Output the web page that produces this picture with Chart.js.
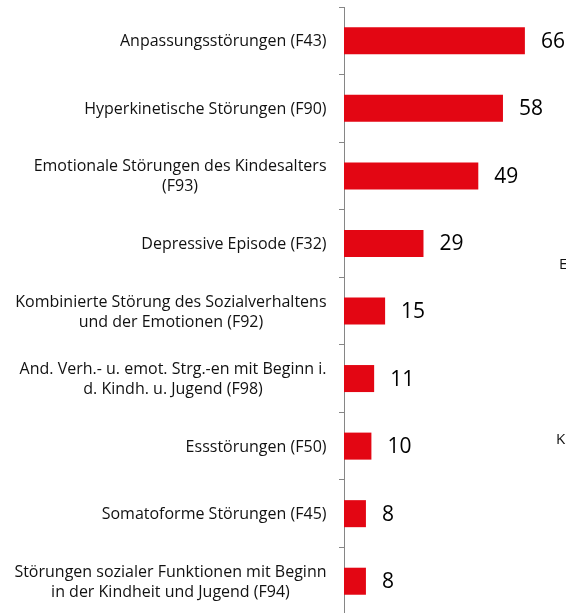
<!DOCTYPE html>
<html>
<head>
<meta charset="utf-8">
<script src="https://cdn.jsdelivr.net/npm/chart.js@4/dist/chart.umd.min.js"></script>
<style>
  html, body { margin: 0; padding: 0; background: #fff; overflow: hidden; }
  #wrap { position: relative; width: 566px; height: 622px; }
</style>
</head>
<body>
<div id="wrap"><canvas id="chart"></canvas></div>
<script>
const categories = [
  'Anpassungsstörungen (F43)',
  'Hyperkinetische Störungen (F90)',
  ['Emotionale Störungen des Kindesalters', '(F93)'],
  'Depressive Episode (F32)',
  ['Kombinierte Störung des Sozialverhaltens', 'und der Emotionen (F92)'],
  ['And. Verh.- u. emot. Strg.-en mit Beginn i.', 'd. Kindh. u. Jugend (F98)'],
  'Essstörungen (F50)',
  'Somatoforme Störungen (F45)',
  ['Störungen sozialer Funktionen mit Beginn', 'in der Kindheit und Jugend (F94)']
];
const values = [66, 58, 49, 29, 15, 11, 10, 8, 8];
const xMax = 81;

const RED = '#e30613';
const AXIS = '#868686';
const labelFont = '16px "Open Sans"';
const valueFont = '21px "Open Sans"';

// category labels: right edge fixed, lines of a wrapped label centered on each other
const categoryLabels = {
  id: 'categoryLabels',
  afterDraw(chart) {
    const ctx = chart.ctx;
    const y = chart.scales.y;
    const right = 326.5;
    const lineH = 20;
    ctx.save();
    ctx.font = labelFont;
    ctx.fillStyle = '#111';
    ctx.textBaseline = 'middle';
    ctx.textAlign = 'center';
    categories.forEach((cat, i) => {
      const lines = Array.isArray(cat) ? cat : [cat];
      const w = Math.max(...lines.map(l => ctx.measureText(l).width));
      const cx = right - w / 2;
      const cy = y.getPixelForValue(i) + 1;
      lines.forEach((l, j) => {
        ctx.fillText(l, cx, cy + (j - (lines.length - 1) / 2) * lineH);
      });
    });
    ctx.restore();
  }
};

// numbers next to the bars
const valueLabels = {
  id: 'valueLabels',
  afterDatasetsDraw(chart) {
    const ctx = chart.ctx;
    const meta = chart.getDatasetMeta(0);
    ctx.save();
    ctx.font = valueFont;
    ctx.fillStyle = '#000';
    ctx.textBaseline = 'middle';
    ctx.textAlign = 'left';
    meta.data.forEach((bar, i) => {
      ctx.fillText(String(values[i]), bar.x + 16, bar.y + 1);
    });
    ctx.restore();
  }
};

// clipped letters of the neighbouring element at the right edge
const edgeText = {
  id: 'edgeText',
  afterDraw(chart) {
    const ctx = chart.ctx;
    ctx.save();
    ctx.font = '15px "Open Sans"';
    ctx.fillStyle = '#111';
    ctx.textBaseline = 'middle';
    ctx.textAlign = 'left';
    ctx.fillText('E', 559, 265);
    ctx.fillText('K', 556, 440);
    ctx.restore();
  }
};

function draw() {
  new Chart(document.getElementById('chart'), {
    type: 'bar',
    data: {
      labels: categories,
      datasets: [{
        data: values,
        backgroundColor: RED,
        borderWidth: 0,
        barPercentage: 0.4,
        categoryPercentage: 1
      }]
    },
    options: {
      indexAxis: 'y',
      responsive: true,
      maintainAspectRatio: false,
      animation: false,
      layout: { padding: { top: 7, bottom: 7, left: 0, right: 0 } },
      plugins: { legend: { display: false }, tooltip: { enabled: false } },
      scales: {
        x: { display: false, min: 0, max: xMax },
        y: {
          offset: true,
          ticks: { display: false },
          grid: { drawOnChartArea: false, drawTicks: true, tickLength: 5, color: AXIS, offset: true },
          border: { display: true, color: AXIS, width: 1 },
          afterFit(scale) { scale.width = 344; }
        }
      }
    },
    plugins: [valueLabels, categoryLabels, edgeText]
  });
}

Promise.all([document.fonts.load(labelFont), document.fonts.load(valueFont)]).then(draw, draw);
</script>
</body>
</html>
